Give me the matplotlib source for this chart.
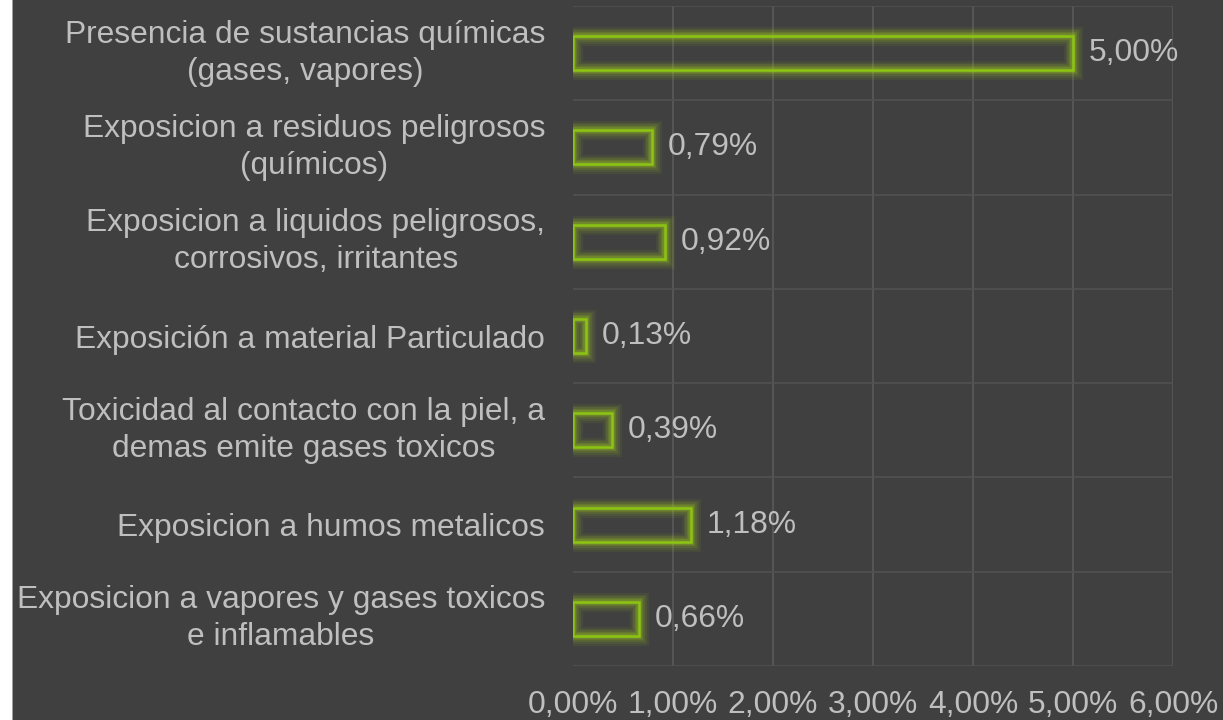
import matplotlib

matplotlib.use("Agg")
import matplotlib.pyplot as plt
import matplotlib.patheffects as pe
from matplotlib.patches import Rectangle

categories = [
    "Presencia de sustancias químicas\n(gases, vapores)",
    "Exposicion a residuos peligrosos\n(químicos)",
    "Exposicion a liquidos peligrosos,\ncorrosivos, irritantes",
    "Exposición a material Particulado",
    "Toxicidad al contacto con la piel, a\ndemas emite gases toxicos",
    "Exposicion a humos metalicos",
    "Exposicion a vapores y gases toxicos\ne inflamables",
]
values = [5.00, 0.79, 0.92, 0.13, 0.39, 1.18, 0.66]
xticks = [0, 1, 2, 3, 4, 5, 6]

BG = "#404040"
TXT = "#bfbfbf"
LIME = "#8cc414"
FS = 22.9

plt.rcParams["font.family"] = ["Liberation Sans", "DejaVu Sans"]

fig = plt.figure(figsize=(12.23, 7.2), dpi=100)
fig.patch.set_facecolor(BG)
# thin light strip on the left edge, like the source screenshot
fig.patches.append(Rectangle((0, 0), 12.5 / 1223, 1, transform=fig.transFigure,
                             facecolor="white", edgecolor="none"))
fig.patches.append(Rectangle((11.5 / 1223, 0), 1.2 / 1223, 1, transform=fig.transFigure,
                             facecolor="#a0a0a0", edgecolor="none"))

ax = fig.add_axes([573 / 1223, 54 / 720, 600 / 1223, 660 / 720])
ax.set_facecolor(BG)
ax.patch.set_alpha(0)

ypos = list(range(len(categories)))
bars = ax.barh(ypos, values, height=0.36, facecolor="none", edgecolor=LIME,
               lw=1.8, zorder=3)
glow = [pe.Stroke(linewidth=w, foreground="#a0cf1c", alpha=a)
        for w, a in [(14, 0.07), (11, 0.09), (8.5, 0.12), (6, 0.17), (4, 0.24)]]
for b in bars:
    b.set_path_effects(glow + [pe.Normal()])

for y, v in zip(ypos, values):
    ax.annotate(f"{v:.2f}".replace(".", ",") + "%", (v, y), xytext=(11, 0),
                textcoords="offset points", va="center", ha="left",
                color=TXT, fontsize=FS)

ax.set_xlim(0, 6)
ax.set_ylim(len(categories) - 0.5, -0.5)
ax.set_xticks(xticks)
ax.set_xticklabels([f"{t:.2f}".replace(".", ",") + "%" for t in xticks])
ax.set_yticks(ypos)
ax.set_yticklabels(categories)
for lab in ax.get_yticklabels():
    lab.set_multialignment("center")
    lab.set_linespacing(1.3)
    if "\n" in lab.get_text():
        lab.set_verticalalignment("center")

# grid: vertical at ticks, horizontal at category boundaries
for t in xticks[1:]:
    ax.axvline(t, color="#5a5a5a", lw=1.2, zorder=1)
for k in range(len(categories) + 1):
    ax.axhline(k - 0.5, color="#525252", lw=1.2, zorder=1)

ax.tick_params(axis="both", length=0, colors=TXT, labelsize=FS)
ax.tick_params(axis="y", pad=20)
ax.tick_params(axis="x", pad=17)
for s in ax.spines.values():
    s.set_visible(False)

fig.savefig("out.png", dpi=100, facecolor=fig.get_facecolor())
